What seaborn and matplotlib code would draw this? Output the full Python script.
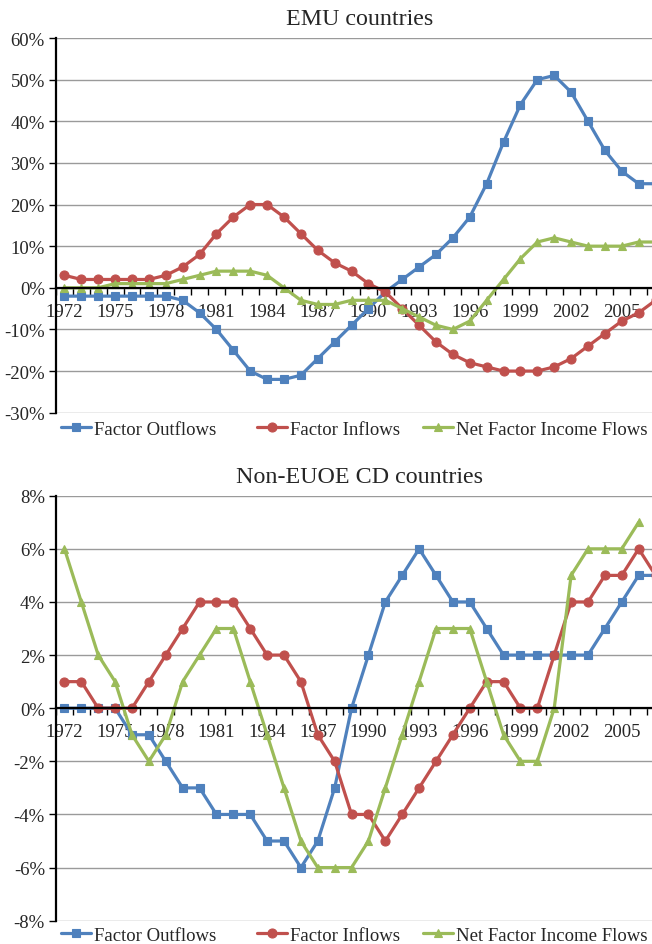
import numpy as np
import pandas as pd
import matplotlib
matplotlib.use("Agg")
import matplotlib.pyplot as plt
import seaborn as sns
from matplotlib.ticker import FuncFormatter, FixedLocator

sns.set_style("white")
plt.rcParams['font.family'] = ['Liberation Serif', 'DejaVu Serif']

years = list(range(1972, 2008))
tick_years = list(range(1972, 2008, 3))
series_names = ["Factor Outflows", "Factor Inflows", "Net Factor Income Flows"]

emu_outflows = [-2, -2, -2, -2, -2, -2, -2, -3, -6, -10,
                -15, -20, -22, -22, -21, -17, -13, -9, -5, -1,
                2, 5, 8, 12, 17, 25, 35, 44, 50, 51,
                47, 40, 33, 28, 25, 25]
emu_inflows = [3, 2, 2, 2, 2, 2, 3, 5, 8, 13,
               17, 20, 20, 17, 13, 9, 6, 4, 1, -1,
               -5, -9, -13, -16, -18, -19, -20, -20, -20, -19,
               -17, -14, -11, -8, -6, -3]
emu_net = [0, 0, 0, 1, 1, 1, 1, 2, 3, 4,
           4, 4, 3, 0, -3, -4, -4, -3, -3, -3,
           -5, -7, -9, -10, -8, -3, 2, 7, 11, 12,
           11, 10, 10, 10, 11, 11]

cd_outflows = [0, 0, 0, 0, -1, -1, -2, -3, -3, -4,
               -4, -4, -5, -5, -6, -5, -3, 0, 2, 4,
               5, 6, 5, 4, 4, 3, 2, 2, 2, 2,
               2, 2, 3, 4, 5, 5]
cd_inflows = [1, 1, 0, 0, 0, 1, 2, 3, 4, 4,
              4, 3, 2, 2, 1, -1, -2, -4, -4, -5,
              -4, -3, -2, -1, 0, 1, 1, 0, 0, 2,
              4, 4, 5, 5, 6, 5]
cd_net = [6, 4, 2, 1, -1, -2, -1, 1, 2, 3,
          3, 1, -1, -3, -5, -6, -6, -6, -5, -3,
          -1, 1, 3, 3, 3, 1, -1, -2, -2, 0,
          5, 6, 6, 6, 7, np.nan]

colors = ["#4F81BD", "#C0504D", "#9BBB59"]
markers = ["s", "o", "^"]

W, H = 652, 945
fig = plt.figure(figsize=(W / 100, H / 100), dpi=100)

def px_axes(left, top, right, bottom):
    return fig.add_axes([left / W, 1 - bottom / H, (right - left) / W, (bottom - top) / H])

legend_x = [61, 257, 423]

def draw(ax, data, title, ymin, ymax, ystep, legend_y):
    for name, vals, c, m in zip(series_names, data, colors, markers):
        df = pd.DataFrame({"year": years, "value": vals})
        sns.lineplot(data=df, x="year", y="value", ax=ax, color=c, marker=m,
                     markersize=6 if m != "o" else 6.5, markeredgecolor=c, markeredgewidth=0.8,
                     linewidth=2.3, label=name, legend=False, clip_on=True)
    ax.set_xlim(1971.5, 2007.5)
    ax.set_ylim(ymin, ymax)
    ax.set_yticks(np.arange(ymin, ymax + ystep / 2, ystep))
    ax.yaxis.set_major_formatter(FuncFormatter(lambda v, p: f"{v:.0f}%".replace("\u2212", "-")))
    ax.grid(axis="y", color="#9a9a9a", linewidth=1.0)
    ax.grid(axis="x", visible=False)
    ax.set_axisbelow(True)
    for s in ["top", "right"]:
        ax.spines[s].set_visible(False)
    ax.spines["bottom"].set_position(("data", 0))
    ax.spines["bottom"].set_color("black")
    ax.spines["bottom"].set_linewidth(1.6)
    ax.spines["left"].set_color("black")
    ax.spines["left"].set_linewidth(1.6)
    ax.set_xticks(tick_years)
    ax.set_xticklabels([str(y) for y in tick_years])
    ax.xaxis.set_minor_locator(FixedLocator([y + 0.5 for y in range(1971, 2008)]))
    ax.tick_params(axis="x", which="major", length=0, pad=11, labelsize=13.5)
    ax.tick_params(axis="x", which="minor", length=5, width=1.0, color="black", direction="out", bottom=True)
    ax.tick_params(axis="y", which="major", length=5, width=1.0, color="black", direction="out",
                   left=True, pad=3, labelsize=13.5)
    ax.set_xlabel("")
    ax.set_ylabel("")
    ax.set_title(title, fontsize=17.3, pad=10)
    handles, labels = ax.get_legend_handles_labels()
    for h, l, lx in zip(handles, labels, legend_x):
        fig.legend([h], [l], loc="center left", bbox_to_anchor=(lx / W, 1 - legend_y / H),
                   frameon=False, fontsize=13.5, handlelength=1.6, handletextpad=0.15,
                   borderpad=0, borderaxespad=0, numpoints=1)

ax1 = px_axes(56, 39, 664, 413.7)
draw(ax1, [emu_outflows, emu_inflows, emu_net], "EMU countries", -30, 60, 10, 430)

ax2 = px_axes(56, 496.7, 664, 921.7)
draw(ax2, [cd_outflows, cd_inflows, cd_net], "Non-EUOE CD countries", -8, 8, 2, 936)

fig.savefig("out.png", dpi=100)
